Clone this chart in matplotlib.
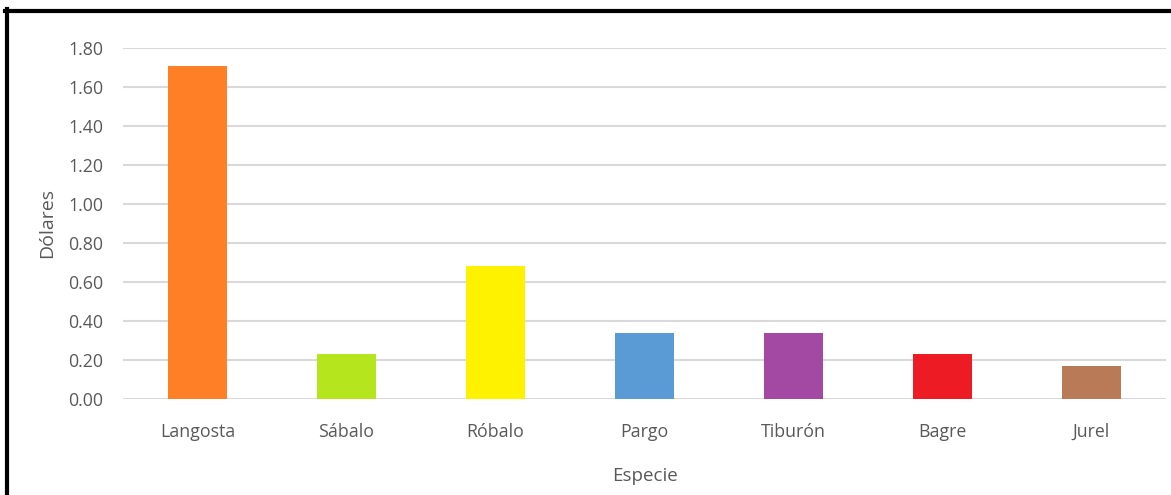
import matplotlib
matplotlib.use("Agg")
import matplotlib.pyplot as plt
from matplotlib.lines import Line2D

especies = ["Langosta", "Sábalo", "Róbalo", "Pargo", "Tiburón", "Bagre", "Jurel"]
dolares = [1.71, 0.23, 0.68, 0.34, 0.34, 0.23, 0.17]
colores = ["#FF7F27", "#B5E61D", "#FFF200", "#5B9BD5", "#A349A4", "#ED1C24", "#B97A57"]
yticks = [0.0, 0.2, 0.4, 0.6, 0.8, 1.0, 1.2, 1.4, 1.6, 1.8]

plt.rcParams["font.family"] = ["Open Sans", "DejaVu Sans"]

W, H = 1171, 495
fig = plt.figure(figsize=(W / 100, H / 100), dpi=100)
ax = fig.add_axes([123 / W, 1 - 399 / H, (1166 - 123) / W, (399 - 48) / H])

ax.bar(range(len(especies)), dolares, width=0.39, color=colores, zorder=3)

ax.set_ylim(0, 1.8)
ax.set_xlim(-0.5, len(especies) - 0.5)
ax.set_yticks(yticks)
ax.set_yticklabels([f"{v:.2f}" for v in yticks])
ax.set_xticks(range(len(especies)))
ax.set_xticklabels(especies)
ax.yaxis.grid(True, color="#D9D9D9", linewidth=1.5, zorder=0)
ax.set_axisbelow(True)
for s in ax.spines.values():
    s.set_visible(False)
ax.tick_params(axis="both", length=0, colors="#595959", labelsize=12.8)
ax.tick_params(axis="y", pad=14)
ax.tick_params(axis="x", pad=17)

ax.set_xlabel("Especie", fontsize=13.5, color="#595959", labelpad=19)
ax.set_ylabel("Dólares", fontsize=14, color="#595959", labelpad=9)

# outer frame (top and left edges)
fig.add_artist(Line2D([5 / W, 1], [1 - 10.5 / H] * 2, transform=fig.transFigure,
                      color="black", linewidth=3))
fig.add_artist(Line2D([7 / W] * 2, [0, 1 - 9 / H], transform=fig.transFigure,
                      color="black", linewidth=3))

fig.savefig("out.png", dpi=100)
